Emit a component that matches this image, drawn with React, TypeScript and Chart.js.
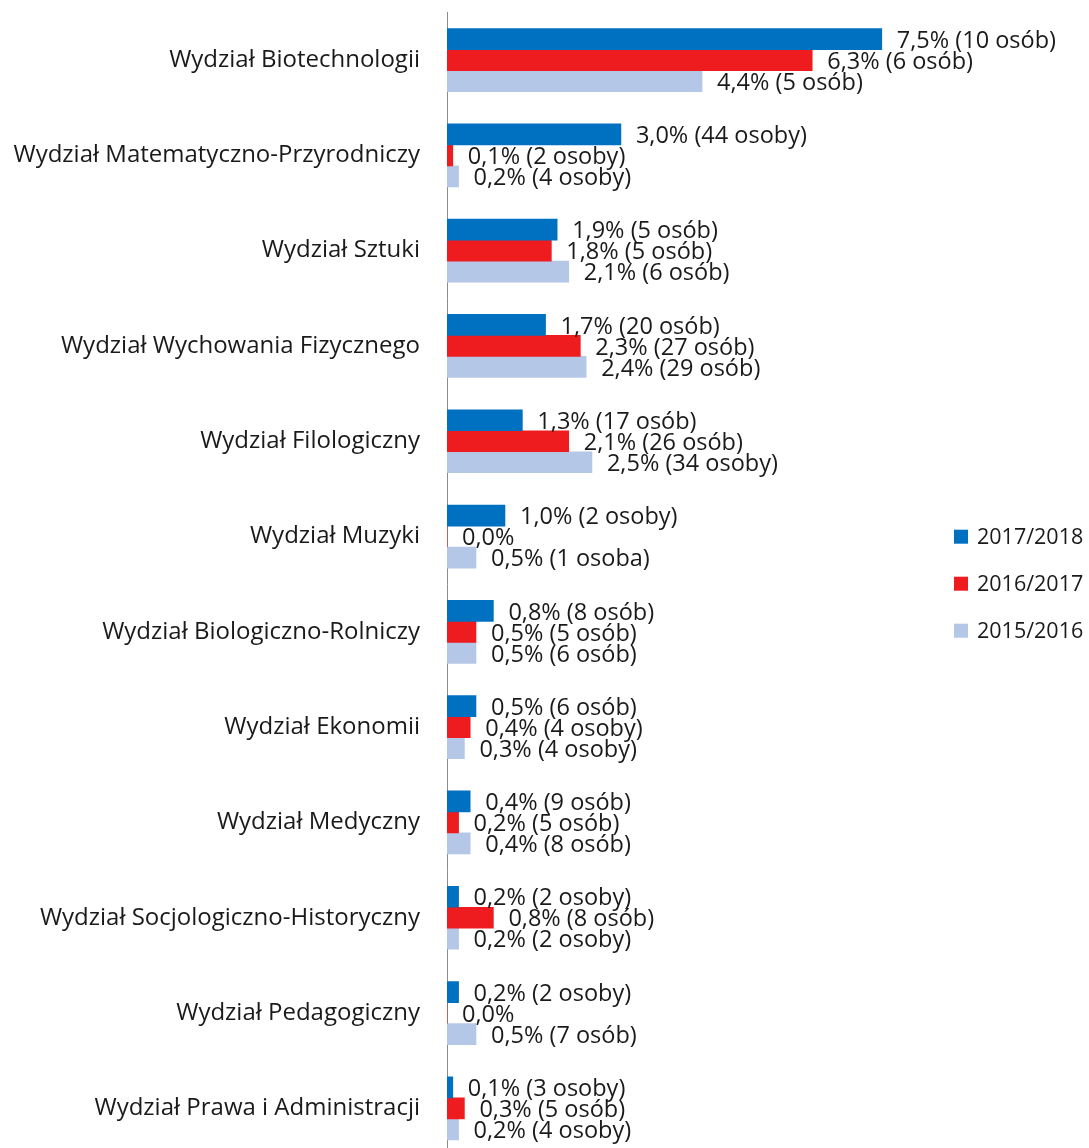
import React, { useEffect, useRef } from "react";
import { Chart, registerables } from "chart.js";

Chart.register(...registerables);

const categories = [
  "Wydział Biotechnologii",
  "Wydział Matematyczno-Przyrodniczy",
  "Wydział Sztuki",
  "Wydział Wychowania Fizycznego",
  "Wydział Filologiczny",
  "Wydział Muzyki",
  "Wydział Biologiczno-Rolniczy",
  "Wydział Ekonomii",
  "Wydział Medyczny",
  "Wydział Socjologiczno-Historyczny",
  "Wydział Pedagogiczny",
  "Wydział Prawa i Administracji",
];

const seriesNames = ["2017/2018", "2016/2017", "2015/2016"];

const values2017 = [7.5, 3.0, 1.9, 1.7, 1.3, 1.0, 0.8, 0.5, 0.4, 0.2, 0.2, 0.1];
const values2016 = [6.3, 0.1, 1.8, 2.3, 2.1, 0.0, 0.5, 0.4, 0.2, 0.8, 0.0, 0.3];
const values2015 = [4.4, 0.2, 2.1, 2.4, 2.5, 0.5, 0.5, 0.3, 0.4, 0.2, 0.5, 0.2];

const persons2017 = ["10 osób", "44 osoby", "5 osób", "20 osób", "17 osób", "2 osoby", "8 osób", "6 osób", "9 osób", "2 osoby", "2 osoby", "3 osoby"];
const persons2016 = ["6 osób", "2 osoby", "5 osób", "27 osób", "26 osób", "", "5 osób", "4 osoby", "5 osób", "8 osób", "", "5 osób"];
const persons2015 = ["5 osób", "4 osoby", "6 osób", "29 osób", "34 osoby", "1 osoba", "6 osób", "4 osoby", "8 osób", "2 osoby", "7 osób", "4 osoby"];

const colors = ["#0070C0", "#EE1C1E", "#B4C7E7"];

const FONT = "'Open Sans'";
const TEXT = "#1a1a1a";

function fmt(v: number, p: string) {
  const s = v.toFixed(1).replace(".", ",") + "%";
  return p ? `${s} (${p})` : s;
}

export default function App() {
  const ref = useRef<HTMLCanvasElement | null>(null);

  useEffect(() => {
    document.documentElement.style.overflow = "hidden";
    document.body.style.margin = "0";
    const canvas = ref.current;
    if (!canvas) return;
    const personsAll = [persons2017, persons2016, persons2015];

    const labelPlugin = {
      id: "barLabels",
      afterDatasetsDraw(chart: any) {
        const ctx = chart.ctx;
        ctx.save();
        ctx.font = `23.5px ${FONT}`;
        ctx.fillStyle = TEXT;
        ctx.textAlign = "left";
        ctx.textBaseline = "middle";
        chart.data.datasets.forEach((ds: any, di: number) => {
          const meta = chart.getDatasetMeta(di);
          meta.data.forEach((bar: any, i: number) => {
            const txt = fmt(ds.data[i], personsAll[di][i]);
            ctx.fillText(txt, bar.x + 15, bar.y + 2);
          });
        });
        ctx.restore();
      },
    };

    const legendPlugin = {
      id: "sideLegend",
      afterDraw(chart: any) {
        const ctx = chart.ctx;
        const area = chart.chartArea;
        const step = 47;
        const midY = (area.top + area.bottom) / 2 - 0.5;
        const x0 = area.right + 27;
        ctx.save();
        ctx.font = `21.5px ${FONT}`;
        ctx.textAlign = "left";
        ctx.textBaseline = "middle";
        chart.data.datasets.forEach((ds: any, i: number) => {
          const y = midY + (i - 1) * step;
          ctx.fillStyle = ds.backgroundColor;
          ctx.fillRect(x0, y - 7, 14, 14);
          ctx.fillStyle = TEXT;
          ctx.fillText(ds.label, x0 + 23, y + 1);
        });
        ctx.restore();
      },
    };

    const chart = new Chart(canvas, {
      type: "bar",
      data: {
        labels: categories,
        datasets: [values2017, values2016, values2015].map((d, i) => ({
          label: seriesNames[i],
          data: d,
          backgroundColor: colors[i],
          borderWidth: 0,
          barThickness: 21,
        })),
      },
      options: {
        indexAxis: "y",
        responsive: false,
        animation: false,
        layout: { padding: { top: 4.4, bottom: 0, left: 0, right: 162 } },
        scales: {
          x: {
            display: false,
            min: 0,
            max: 8.28,
            grid: { display: false },
          },
          y: {
            afterFit: (scale: any) => {
              scale.width = 439;
              scale.paddingTop = 0;
              scale.paddingBottom = 0;
            },
            grid: { display: false, drawTicks: false, tickLength: 0 },
            border: { display: true, color: "#8c8c8c", width: 1 },
            ticks: {
              padding: 27,
              color: TEXT,
              font: { family: FONT, size: 24 },
            },
          },
        },
        plugins: {
          legend: { display: false },
          tooltip: { enabled: false },
        },
      },
      plugins: [labelPlugin, legendPlugin],
    });
    return () => chart.destroy();
  }, []);

  return (
    <div style={{ width: 1089, height: 1148, overflow: "hidden", position: "relative" }}>
      <canvas
        ref={ref}
        width={1081}
        height={1148}
        style={{ display: "block", position: "absolute", left: 8, top: 8 }}
      />
    </div>
  );
}
